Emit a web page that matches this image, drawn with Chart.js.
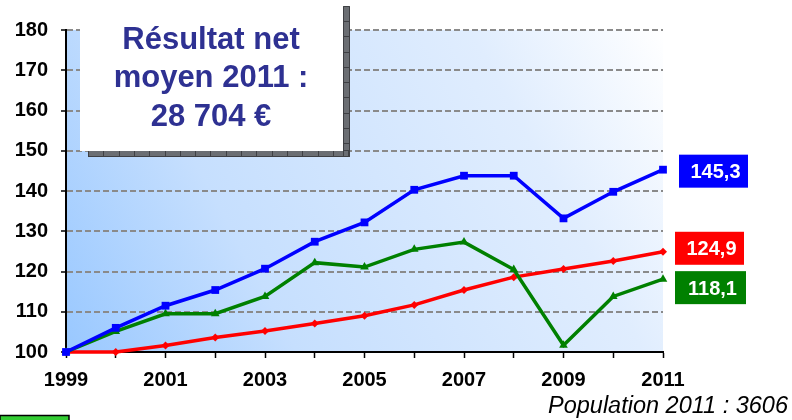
<!DOCTYPE html>
<html>
<head>
<meta charset="utf-8">
<script src="https://cdn.jsdelivr.net/npm/chart.js@4/dist/chart.umd.min.js"></script>
<style>
  html, body { margin: 0; padding: 0; background: #fff; }
  #wrap { width: 792px; height: 420px; position: relative; }
</style>
</head>
<body>
<div id="wrap"><canvas id="graph"></canvas></div>
<script>
	// données (base 100 en 1999)
	var years = ['1999','2000','2001','2002','2003','2004','2005','2006','2007','2008','2009','2010','2011'];
	var blueSerie  = [100, 106.0, 111.5, 115.4, 120.7, 127.4, 132.2, 140.3, 143.8, 143.8, 133.2, 139.8, 145.3];
	var redSerie   = [100, 100.0, 101.6, 103.6, 105.2, 107.1, 109.0, 111.7, 115.4, 118.6, 120.6, 122.6, 124.9];
	var greenSerie = [100, 105.1, 109.5, 109.5, 113.8, 122.2, 121.1, 125.5, 127.3, 120.5, 101.7, 113.8, 118.1];
	var endLabels  = ['145,3', '124,9', '118,1'];
	var yTicks     = [100, 110, 120, 130, 140, 150, 160, 170, 180];
	var boxLines   = ['Résultat net', 'moyen 2011 :', '28 704 €'];
	var footText   = 'Population 2011 : 3606';

	// fond dégradé de la zone de tracé
	var fondPlugin = {
		id: 'fond',
		beforeDraw: function(chart){
			var ctx = chart.ctx, a = chart.chartArea;
			var g = ctx.createLinearGradient(a.left, a.bottom, a.right, a.top);
			g.addColorStop(0, '#99c8ff');
			g.addColorStop(0.3, '#c6dffe');
			g.addColorStop(0.75, '#e0edfe');
			g.addColorStop(1, '#ffffff');
			ctx.save();
			ctx.fillStyle = g;
			ctx.fillRect(a.left, a.top, a.right - a.left, a.bottom - a.top);
			ctx.restore();
		}
	};

	// encadré, étiquettes de fin, texte du bas
	var decorPlugin = {
		id: 'decor',
		afterDraw: function(chart){
			var ctx = chart.ctx;
			var y = chart.scales.y;
			ctx.save();

			// ombre de l'encadré
			ctx.fillStyle = '#6b6e73';
			ctx.fillRect(88, 150, 262, 7);
			ctx.fillRect(343, 6, 7, 151);
			ctx.strokeStyle = '#3f4044';
			ctx.lineWidth = 1;
			ctx.beginPath();
			for (var sx = 88; sx < 350; sx += 15.3) { ctx.moveTo(Math.round(sx)+0.5, 150); ctx.lineTo(Math.round(sx)+0.5, 157); }
			for (var sy = 21; sy < 157; sy += 15.3) { ctx.moveTo(343, Math.round(sy)+0.5); ctx.lineTo(350, Math.round(sy)+0.5); }
			ctx.rect(88.5, 150.5, 261, 6);
			ctx.rect(343.5, 6.5, 6, 150);
			ctx.stroke();

			// encadré blanc
			ctx.fillStyle = '#ffffff';
			ctx.fillRect(80, 0, 263, 151);
			ctx.fillStyle = '#2e3192';
			ctx.font = 'bold 31px "Liberation Sans", Arial, sans-serif';
			ctx.textAlign = 'center';
			ctx.textBaseline = 'middle';
			for (var i = 0; i < boxLines.length; i++) {
				ctx.fillText(boxLines[i], 211, 40 + i * 38.5);
			}

			// étiquettes de fin de courbe
			var last = years.length - 1;
			var ends = [
				{ v: blueSerie[last],  c: '#0000ff', x: 679, w: 69, dy: 2 },
				{ v: redSerie[last],   c: '#ff0000', x: 675, w: 69, dy: -3 },
				{ v: greenSerie[last], c: '#008000', x: 675, w: 71, dy: 9 }
			];
			ctx.font = 'bold 20px "Liberation Sans", Arial, sans-serif';
			for (var k = 0; k < ends.length; k++) {
				var e = ends[k];
				var cy = y.getPixelForValue(e.v) + e.dy;
				ctx.fillStyle = e.c;
				ctx.fillRect(e.x, cy - 17, e.w, 33);
				ctx.fillStyle = '#ffffff';
				ctx.fillText(endLabels[k], e.x + e.w / 2 + 2, cy + 1);
			}

			// texte du bas
			ctx.fillStyle = '#000000';
			ctx.font = 'italic 23.5px "Liberation Sans", Arial, sans-serif';
			ctx.textAlign = 'right';
			ctx.textBaseline = 'alphabetic';
			ctx.fillText(footText, 788, 413);

			// petit cadre vert en bas à gauche
			ctx.fillStyle = '#33cc33';
			ctx.fillRect(0, 415, 69, 6);
			ctx.strokeStyle = '#000000';
			ctx.lineWidth = 1.5;
			ctx.strokeRect(0, 415.5, 69, 8);
			ctx.restore();
		}
	};

	new Chart(document.getElementById('graph'), {
		type: 'line',
		data: {
			labels: years,
			datasets: [{
				data: blueSerie,
				borderColor: '#0000ff',
				backgroundColor: '#0000ff',
				borderWidth: 3.5,
				pointStyle: 'rect',
				pointRadius: 5.5,
				pointBorderWidth: 0,
				clip: false
			}, {
				data: greenSerie,
				borderColor: '#008000',
				backgroundColor: '#008000',
				borderWidth: 3.5,
				pointStyle: 'triangle',
				pointRadius: 5,
				pointBorderWidth: 0,
				clip: false
			}, {
				data: redSerie,
				borderColor: '#ff0000',
				backgroundColor: '#ff0000',
				borderWidth: 3.5,
				pointStyle: 'rectRot',
				pointRadius: 4,
				pointBorderWidth: 0,
				clip: false
			}]
		},
		options: {
			responsive: true,
			maintainAspectRatio: false,
			animation: false,
			layout: { padding: { left: 0, right: 129, top: 30, bottom: 0 } },
			plugins: {
				legend: { display: false },
				tooltip: { enabled: false }
			},
			scales: {
				x: {
					type: 'category',
					offset: false,
					afterFit: function(s){ s.height = 68; },
					grid: { drawOnChartArea: false, drawTicks: true, tickLength: 6, tickColor: '#000', tickWidth: 1.5 },
					border: { display: true, color: '#000', width: 2 },
					ticks: {
						autoSkip: false,
						maxRotation: 0,
						padding: 10,
						color: '#000',
						font: { family: '"Liberation Sans", Arial, sans-serif', size: 20, weight: 'bold' },
						callback: function(v, i){ return i % 2 === 0 ? this.getLabelForValue(v) : ''; }
					}
				},
				y: {
					min: yTicks[0],
					max: yTicks[yTicks.length - 1],
					afterFit: function(s){ s.width = 66; },
					afterBuildTicks: function(s){ s.ticks = yTicks.map(function(v){ return { value: v }; }); },
					grid: {
						drawTicks: true,
						tickLength: 5,
						tickColor: '#000',
						tickWidth: 1.5,
						tickBorderDash: [],
						lineWidth: 2,
						color: function(c){ return c.tick && c.tick.value === yTicks[0] ? 'rgba(0,0,0,0)' : '#8a8a8a'; }
					},
					border: { display: true, color: '#000', width: 2, dash: [6, 3] },
					ticks: {
						padding: 13,
						color: '#000',
						font: { family: '"Liberation Sans", Arial, sans-serif', size: 20, weight: 'bold' }
					}
				}
			}
		},
		plugins: [fondPlugin, decorPlugin]
	});
</script>
</body>
</html>
